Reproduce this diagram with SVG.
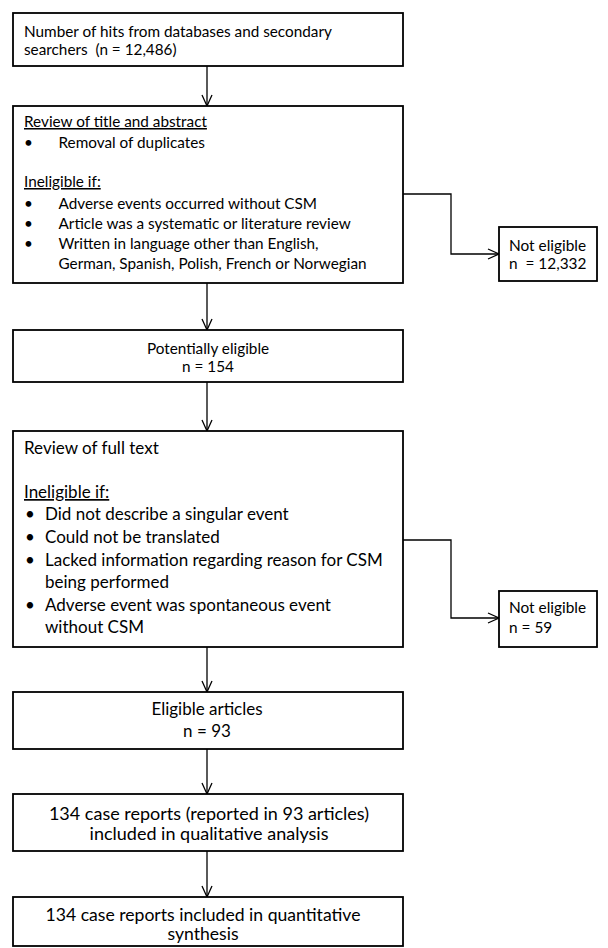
<svg xmlns="http://www.w3.org/2000/svg" width="608" height="948" viewBox="0 0 608 948">
<style>
.box{fill:#fff;stroke:#000;stroke-width:1.8}
.ln{fill:none;stroke:#000;stroke-width:1.3}
text{font-family:Lato,"Liberation Sans",sans-serif;fill:#000;white-space:pre}
.s{font-size:15.3px}
.m{font-size:17px}
.ne{font-size:15.4px}
.l{font-size:18px}
.l2{font-size:17.6px}
.c{text-anchor:middle}
.u{text-decoration:underline}
</style>
<defs>
<marker id="ah" viewBox="-12 -6 14 12" markerWidth="14" markerHeight="12" refX="0" refY="0" orient="auto" markerUnits="userSpaceOnUse">
<path d="M-11,-5 L0,0 L-11,5" fill="none" stroke="#000" stroke-width="1.3"/>
</marker>
</defs>
<rect width="608" height="948" fill="#fff"/>
<g id="connectors">
<line class="ln" x1="207" y1="66" x2="207" y2="106" marker-end="url(#ah)"/>
<line class="ln" x1="207" y1="283" x2="207" y2="330" marker-end="url(#ah)"/>
<line class="ln" x1="207" y1="382" x2="207" y2="431" marker-end="url(#ah)"/>
<line class="ln" x1="207" y1="647" x2="207" y2="692" marker-end="url(#ah)"/>
<line class="ln" x1="207" y1="749" x2="207" y2="794" marker-end="url(#ah)"/>
<line class="ln" x1="207" y1="851" x2="207" y2="897" marker-end="url(#ah)"/>
<polyline class="ln" points="403,194 451,194 451,254 499,254" marker-end="url(#ah)"/>
<polyline class="ln" points="403,540 451,540 451,618 499,618" marker-end="url(#ah)"/>
</g>
<g id="n1">
<rect class="box" x="13" y="13" width="390" height="53"/>
<text class="s" x="24" y="37">Number of hits from databases and secondary</text>
<text class="s" x="24" y="55">searchers  (n = 12,486)</text>
</g>
<g id="n2">
<rect class="box" x="13" y="106" width="390" height="177"/>
<text class="s u" x="24" y="127">Review of title and abstract</text>
<text class="s" x="24" y="147.5">•</text>
<text class="s" x="58.5" y="147.5">Removal of duplicates</text>
<text class="s u" x="24" y="187">Ineligible if:</text>
<text class="s" x="24" y="209">•</text>
<text class="s" x="58.5" y="209">Adverse events occurred without CSM</text>
<text class="s" x="24" y="229">•</text>
<text class="s" x="58.5" y="229">Article was a systematic or literature review</text>
<text class="s" x="24" y="249">•</text>
<text class="s" x="58.5" y="249">Written in language other than English,</text>
<text class="s" x="58.5" y="269">German, Spanish, Polish, French or Norwegian</text>
</g>
<g id="n3">
<rect class="box" x="499" y="227" width="98" height="54"/>
<text class="ne" x="509" y="250.5">Not eligible</text>
<text class="ne" x="509" y="269">n  = 12,332</text>
</g>
<g id="n4">
<rect class="box" x="13" y="330" width="390" height="52"/>
<text class="s c" x="208" y="354">Potentially eligible</text>
<text class="s c" x="208" y="372">n = 154</text>
</g>
<g id="n5">
<rect class="box" x="13" y="431" width="390" height="216"/>
<text class="m" x="24" y="454">Review of full text</text>
<text class="m u" x="24" y="498">Ineligible if:</text>
<text class="m" x="25" y="520">•</text>
<text class="m" x="45" y="520">Did not describe a singular event</text>
<text class="m" x="25" y="543">•</text>
<text class="m" x="45" y="543">Could not be translated</text>
<text class="m" x="25" y="565.5">•</text>
<text class="m" x="45" y="565.5">Lacked information regarding reason for CSM</text>
<text class="m" x="45" y="588">being performed</text>
<text class="m" x="25" y="611">•</text>
<text class="m" x="45" y="611">Adverse event was spontaneous event</text>
<text class="m" x="45" y="633">without CSM</text>
</g>
<g id="n6">
<rect class="box" x="499" y="591" width="98" height="56"/>
<text class="ne" x="509" y="613">Not eligible</text>
<text class="ne" x="509" y="633">n = 59</text>
</g>
<g id="n7">
<rect class="box" x="13" y="692" width="390" height="57"/>
<text class="m c" x="207" y="715">Eligible articles</text>
<text class="m c" x="207" y="736.5">n = 93</text>
</g>
<g id="n8">
<rect class="box" x="13" y="794" width="390" height="57"/>
<text class="l c" x="209" y="820">134 case reports (reported in 93 articles)</text>
<text class="l c" x="209" y="840">included in qualitative analysis</text>
</g>
<g id="n9">
<rect class="box" x="13" y="897" width="390" height="49"/>
<text class="l2 c" x="203" y="921">134 case reports included in quantitative</text>
<text class="l2 c" x="203" y="940">synthesis</text>
</g>
</svg>
